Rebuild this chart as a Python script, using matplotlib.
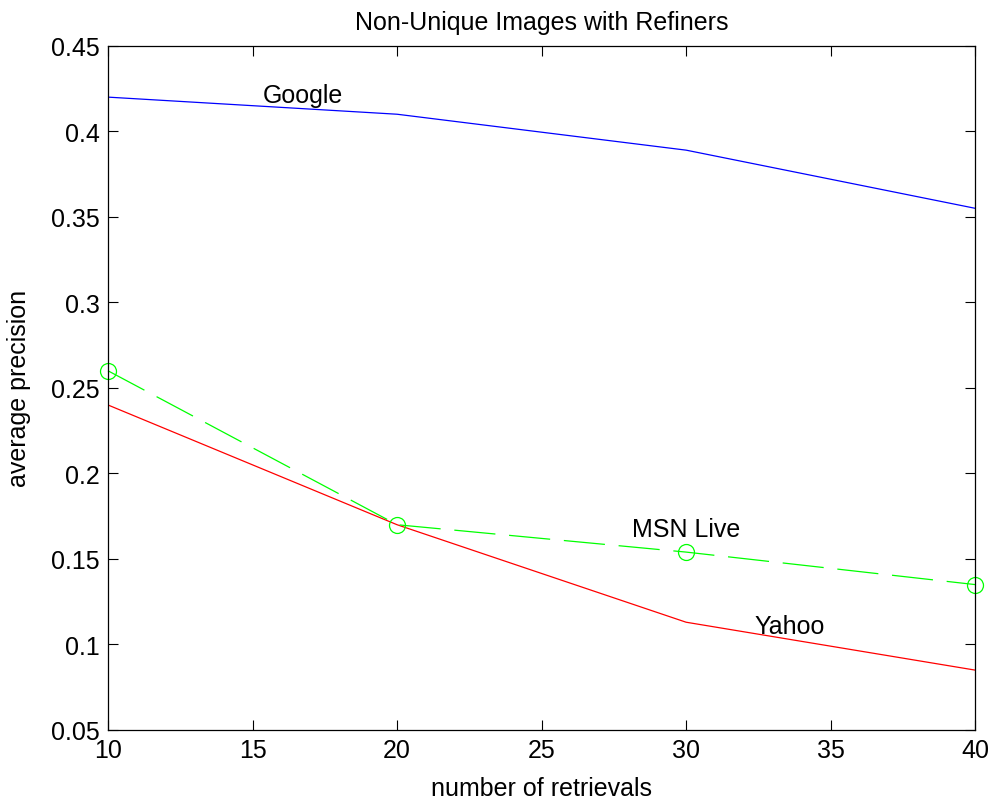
import matplotlib
matplotlib.use("Agg")
import matplotlib.pyplot as plt

# data
retrievals = [10, 20, 30, 40]
google = [0.420, 0.410, 0.389, 0.355]
msn_live = [0.260, 0.170, 0.154, 0.135]
yahoo = [0.240, 0.170, 0.113, 0.085]

xticks = [10, 15, 20, 25, 30, 35, 40]
yticks = [0.05, 0.1, 0.15, 0.2, 0.25, 0.3, 0.35, 0.4, 0.45]
ytick_labels = ["0.05", "0.1", "0.15", "0.2", "0.25", "0.3", "0.35", "0.4", "0.45"]

plt.rcParams["font.family"] = ["Liberation Sans", "DejaVu Sans"]
fs = 18

fig = plt.figure(figsize=(9.91, 8.03), dpi=100)
ax = fig.add_axes([0.109, 0.0897, 0.875, 0.852])

ax.plot(retrievals, google, color="#0000ff", linewidth=0.9)
ax.plot(retrievals, yahoo, color="#ff0000", linewidth=0.9)
ax.plot(retrievals, msn_live, color="#00ff00", linewidth=0.9,
        linestyle=(0, (33, 11)), marker="o", markersize=11.5,
        markerfacecolor="none", markeredgecolor="#00ff00", markeredgewidth=0.9,
        clip_on=False)

ax.text(16.75, 0.4215, "Google", fontsize=fs, ha="center", va="center")
ax.text(30.0, 0.1675, "MSN Live", fontsize=fs, ha="center", va="center")
ax.text(33.6, 0.111, "Yahoo", fontsize=fs, ha="center", va="center")

ax.set_xlim(10, 40)
ax.set_ylim(0.05, 0.45)
ax.set_xticks(xticks)
ax.set_xticklabels([str(x) for x in xticks])
ax.set_yticks(yticks)
ax.set_yticklabels(ytick_labels)
ax.tick_params(direction="in", length=7, width=0.8, top=True, right=True,
               labelsize=fs, pad=6)
for s in ax.spines.values():
    s.set_linewidth(0.9)

ax.set_title("Non-Unique Images with Refiners", fontsize=fs, pad=12)
ax.set_xlabel("number of retrievals", fontsize=fs, labelpad=10)
ax.set_ylabel("average precision", fontsize=fs, labelpad=14)

fig.savefig("out.png", dpi=100)
plt.close(fig)
